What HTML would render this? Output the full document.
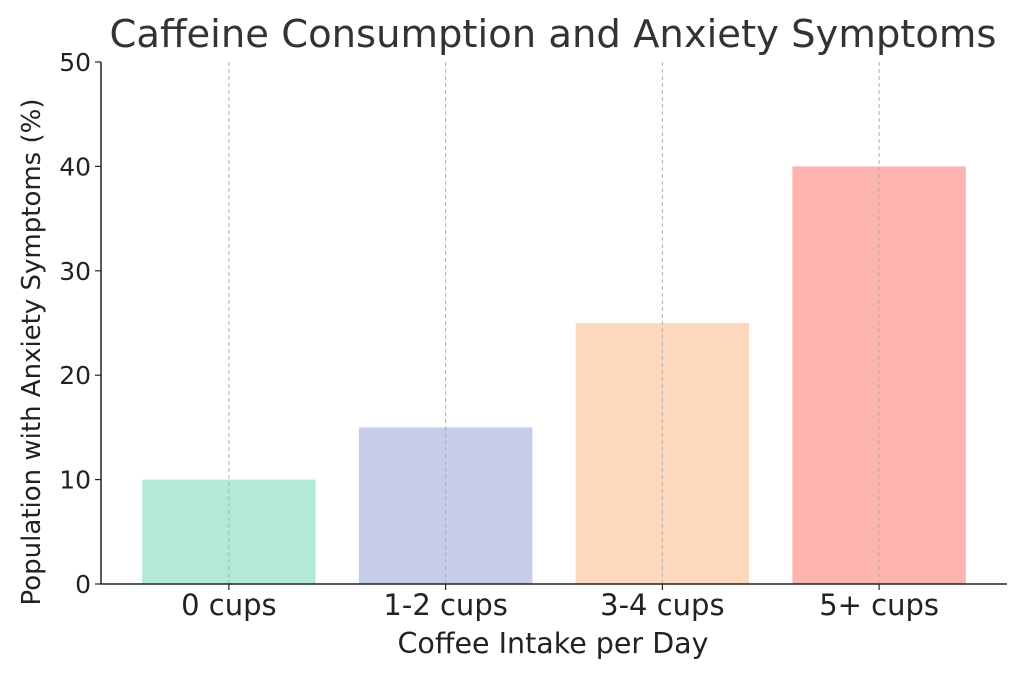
<!DOCTYPE html>
<html><head><meta charset="utf-8"><style>
body{margin:0;background:#fff;}
svg{display:block;font-family:"DejaVu Sans","Liberation Sans",sans-serif;}
</style></head><body>
<svg id="chart" width="1024" height="677">
<text x="553" y="47" text-anchor="middle" font-size="38.5" fill="#333">Caffeine Consumption and Anxiety Symptoms</text>
<g id="plot"></g>
<text x="553" y="653" text-anchor="middle" font-size="28.5" fill="#222">Coffee Intake per Day</text>
<text transform="translate(40,352) rotate(-90)" text-anchor="middle" font-size="26" fill="#222">Population with Anxiety Symptoms (%)</text>
</svg>
<script>
const categories=["0 cups","1-2 cups","3-4 cups","5+ cups"];
const values=[10,15,25,40];
const colors=["#b3e9d6","#c6cde9","#fed8bd","#feb4ae"];
const yTicks=[0,10,20,30,40,50];
const L=101,R=1007,T=62,B=584,ymax=50,xmin=-0.59,xmax=3.59;
const ns="http://www.w3.org/2000/svg";
const g=document.getElementById('plot');
const x=i=>L+(i-xmin)/(xmax-xmin)*(R-L);
const y=v=>B-v/ymax*(B-T);
function mk(t,a,p){const e=document.createElementNS(ns,t);for(const k in a)e.setAttribute(k,a[k]);(p||g).appendChild(e);return e;}
const bw=0.8*(R-L)/(xmax-xmin);
values.forEach((v,i)=>{
 const r=mk('rect',{x:x(i)-bw/2,y:y(v),width:bw,height:B-y(v),fill:colors[i]});
 
 
});
categories.forEach((c,i)=>{
 const l=mk('line',{x1:x(i),x2:x(i),y1:T,y2:B,stroke:'#b0b0b0','stroke-width':1,'stroke-dasharray':'4,3'});
 
 
 mk('line',{x1:x(i),x2:x(i),y1:B,y2:B+6,stroke:'#222','stroke-width':1.2});
 const t=mk('text',{x:x(i),y:B+31,'text-anchor':'middle','font-size':29,fill:'#222'});
 t.textContent=c;
 
 
});
yTicks.forEach(v=>{
 mk('line',{x1:L-6,x2:L,y1:y(v),y2:y(v),stroke:'#222','stroke-width':1.2});
 const t=mk('text',{x:L-10,y:y(v)+9,'text-anchor':'end','font-size':25,fill:'#222'});
 t.textContent=v;
 
 
});
const ya=mk('line',{x1:L,x2:L,y1:T,y2:B,stroke:'#222','stroke-width':1.5});


const xa=mk('line',{x1:L,x2:R,y1:B,y2:B,stroke:'#222','stroke-width':1.5});


</script>
</body></html>
